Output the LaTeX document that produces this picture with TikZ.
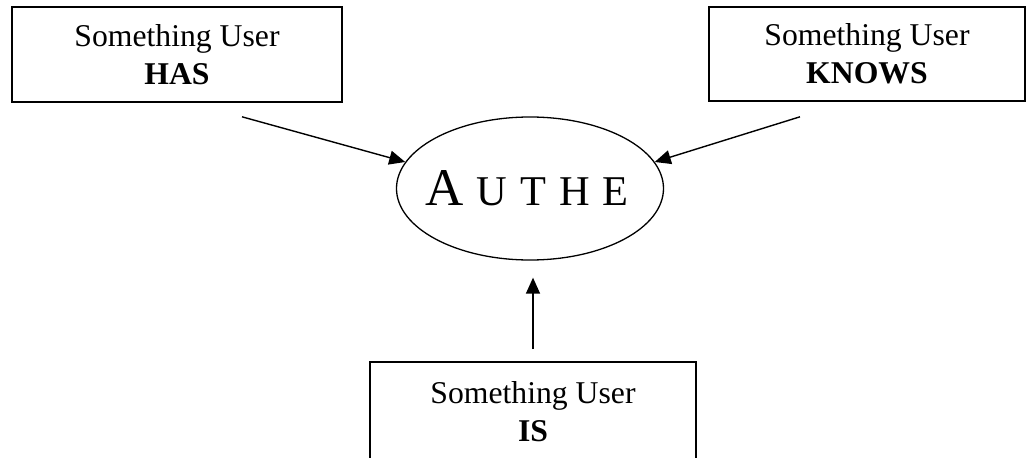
\documentclass[tikz,border=0pt]{standalone}
\usepackage{fontspec}
\setmainfont{Liberation Serif}
\usetikzlibrary{shapes.geometric,arrows.meta}

\tikzset{
  factor/.style={draw, line width=1.6pt, rectangle, inner sep=0pt,
    align=center, font=\fontsize{31.7}{38}\selectfont},
  centre/.style={draw, line width=1.3pt, ellipse, inner sep=0pt,
    minimum width=267pt, minimum height=143pt},
  arr/.style={line width=1.4pt, -{Triangle[length=16pt,width=14pt]}},
}

\begin{document}
\begin{tikzpicture}[x=1pt, y=-1pt]
  \useasboundingbox (0,0) rectangle (1029,458);

  % the three authentication factors
  \node[factor, minimum width=330pt, minimum height=95pt] (has)
    at (177,54.5) {Something User\\\textbf{HAS}};
  \node[factor, minimum width=316pt, minimum height=94pt] (knows)
    at (867,54) {Something User\\\textbf{KNOWS}};
  \node[factor, minimum width=326pt, minimum height=100pt] (is)
    at (533,412) {Something User\\\textbf{IS}};

  % the central ellipse, its word set apart so it does not widen the shape
  \node[centre] (auth) at (530,188.5) {};
  \node[inner sep=0pt] (authword) at ([xshift=-3pt]auth.center)
    {\raisebox{-6pt}{{\fontsize{53}{60}\selectfont A}\hspace{13pt}%
      {\fontsize{42.4}{50}\selectfont U\hspace{13pt}T\hspace{13pt}H\hspace{13pt}E}}};

  % free ends of the connectors
  \coordinate (hasEnd) at ([xshift=65pt,yshift=-14pt]has.south);
  \coordinate (knowsEnd) at ([xshift=-67pt,yshift=-15pt]knows.south);
  \coordinate (isEnd) at ([yshift=12pt]is.north);

  \draw[arr] (hasEnd) -- (auth.168);
  \draw[arr] (knowsEnd) -- (auth.12);
  \draw[arr] (isEnd) -- ([yshift=-17pt]isEnd |- auth.south);
\end{tikzpicture}
\end{document}
